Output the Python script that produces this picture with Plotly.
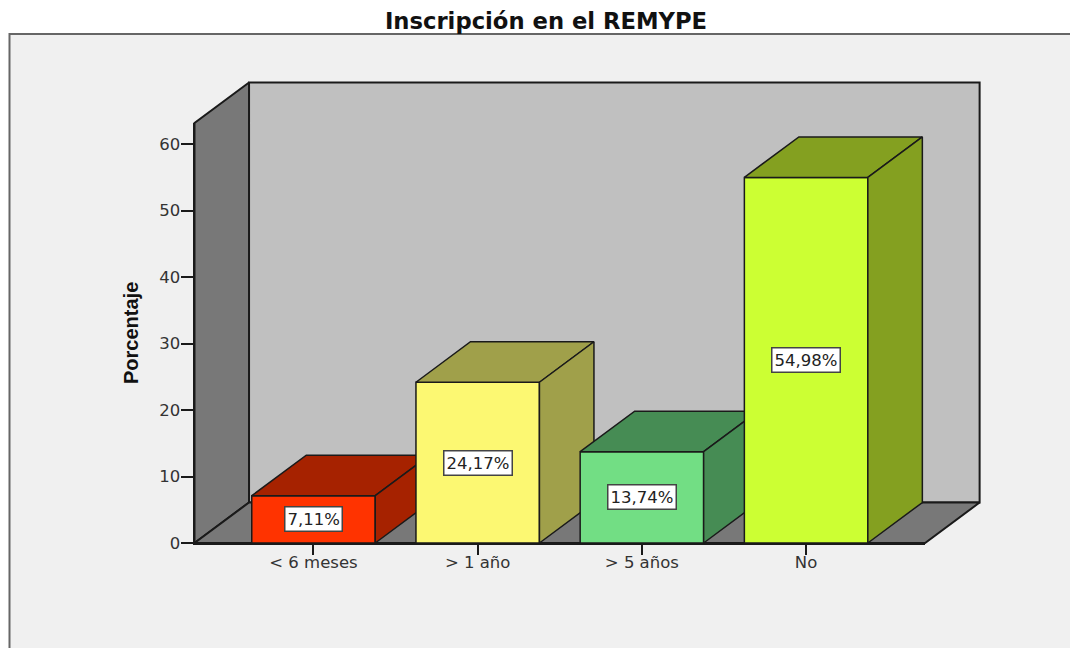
import plotly.graph_objects as go

categories = ["< 6 meses", "> 1 año", "> 5 años", "No"]
values = [7.11, 24.17, 13.74, 54.98]
labels = ["7,11%", "24,17%", "13,74%", "54,98%"]
front_colors = ["#ff3300", "#fcf872", "#72de84", "#ccff33"]
shade_colors = ["#a62200", "#a0a04a", "#468c54", "#84a020"]
y_ticks = [0, 10, 20, 30, 40, 50, 60]

W, H = 1070, 648
PX_X0, PX_PER_CAT = 313.5, 164.2
PX_Y0, PX_PER_UNIT = 543.0, 6.65
X_MIN, X_MAX = -0.7247, 3.7247
Y_MAX = 63.16
DEPTH_X, DEPTH_Y = 0.332, 6.09
BAR_W = 0.752
WALL_BACK, WALL_SIDE = "#c0c0c0", "#787878"
INK = "#1a1a1a"
FONT = "DejaVu Sans"

FULL_X = [-PX_X0 / PX_PER_CAT, (W - PX_X0) / PX_PER_CAT]
FULL_Y = [(PX_Y0 - H) / PX_PER_UNIT, PX_Y0 / PX_PER_UNIT]


def poly(xs, ys, color, xa, ya, lw=1.5):
    return go.Scatter(x=xs + xs[:1], y=ys + ys[:1], xaxis=xa, yaxis=ya, mode="lines",
                      fill="toself", fillcolor=color, line=dict(color=INK, width=lw),
                      hoverinfo="skip", showlegend=False)


fig = go.Figure()
fig.add_trace(go.Scatter(x=[None], y=[None], xaxis="x", yaxis="y", hoverinfo="skip", showlegend=False))
# back wall, left wall, floor
fig.add_trace(poly([X_MIN + DEPTH_X, X_MAX + DEPTH_X, X_MAX + DEPTH_X, X_MIN + DEPTH_X],
                   [DEPTH_Y, DEPTH_Y, Y_MAX + DEPTH_Y, Y_MAX + DEPTH_Y], WALL_BACK, "x2", "y2", 2))
fig.add_trace(poly([X_MIN, X_MIN + DEPTH_X, X_MIN + DEPTH_X, X_MIN],
                   [0, DEPTH_Y, Y_MAX + DEPTH_Y, Y_MAX], WALL_SIDE, "x2", "y2", 2))
fig.add_trace(poly([X_MIN, X_MIN + DEPTH_X, X_MAX + DEPTH_X, X_MAX],
                   [0, DEPTH_Y, DEPTH_Y, 0], WALL_SIDE, "x2", "y2", 2))

layout_axes = {
    "xaxis2": dict(domain=[0, 1], range=FULL_X, visible=False, fixedrange=True, anchor="y2"),
    "yaxis2": dict(domain=[0, 1], range=FULL_Y, visible=False, fixedrange=True, anchor="x2"),
}
annotations = []
for i, (v, front, shade, lab) in enumerate(zip(values, front_colors, shade_colors, labels)):
    n = i + 3
    xa, ya = f"x{n}", f"y{n}"
    l, r = i - BAR_W / 2, i + BAR_W / 2
    fig.add_trace(poly([l, r, r + DEPTH_X, l + DEPTH_X], [v, v, v + DEPTH_Y, v + DEPTH_Y], shade, xa, ya))
    fig.add_trace(poly([r, r + DEPTH_X, r + DEPTH_X, r], [0, DEPTH_Y, v + DEPTH_Y, v], shade, xa, ya))
    fig.add_trace(go.Bar(x=[i], y=[v], width=[BAR_W], xaxis=xa, yaxis=ya,
                         marker=dict(color=front, line=dict(color=INK, width=1.5)),
                         hoverinfo="skip", showlegend=False))
    layout_axes[f"xaxis{n}"] = dict(overlaying="x2", range=FULL_X, visible=False, fixedrange=True, anchor=ya)
    layout_axes[f"yaxis{n}"] = dict(overlaying="y2", range=FULL_Y, visible=False, fixedrange=True, anchor=xa)
    annotations.append(dict(x=i, y=v / 2, xref=xa, yref=ya, text=lab, showarrow=False,
                            font=dict(family=FONT, size=16.5, color="#222222"),
                            bgcolor="#ffffff", bordercolor="#444444", borderwidth=1.5, borderpad=2))

annotations.append(dict(x=131 / W, y=1 - 333 / H, xref="paper", yref="paper", text="<b>Porcentaje</b>",
                        textangle=-90, showarrow=False, xanchor="center", yanchor="middle",
                        font=dict(family="Liberation Sans", size=20, color="#111111")))

fig.update_layout(
    width=W, height=H, margin=dict(l=0, r=0, t=0, b=0, autoexpand=False),
    paper_bgcolor="#ffffff", plot_bgcolor="rgba(0,0,0,0)", showlegend=False, barmode="overlay",
    title=dict(text="<b>Inscripción en el REMYPE</b>", x=546 / W, y=1 - 21 / H,
               xanchor="center", yanchor="middle",
               font=dict(family=FONT, size=22.7, color="#111111")),
    xaxis=dict(domain=[194.5 / W, 925 / W], range=[X_MIN, X_MAX], tickmode="array", anchor="y",
               tickvals=list(range(len(categories))), ticktext=categories, ticks="outside",
               ticklen=10, tickwidth=1.5, tickcolor=INK, showline=True, linecolor=INK, linewidth=1.5,
               showgrid=False, zeroline=False, fixedrange=True, ticklabelstandoff=-7,
               tickfont=dict(family=FONT, size=16.5, color="#333333")),
    yaxis=dict(domain=[1 - 543 / H, 1 - 123 / H], range=[0, Y_MAX], tickmode="array", anchor="x",
               tickvals=y_ticks, ticks="outside", ticklen=12, tickwidth=1.5, tickcolor=INK,
               showline=True, linecolor=INK, linewidth=2, showgrid=False, zeroline=False,
               fixedrange=True, ticklabelstandoff=-3,
               tickfont=dict(family=FONT, size=16.5, color="#333333")),
    shapes=[dict(type="rect", xref="paper", yref="paper", x0=9.5 / W, x1=1.02, y0=-0.02, y1=1 - 34 / H,
                 fillcolor="#f0f0f0", line=dict(color="#666666", width=2), layer="below")],
    annotations=annotations,
    **layout_axes,
)

fig.write_html("out.html", config={"displayModeBar": False},
               post_script="document.documentElement.style.margin='0';document.body.style.margin='0';")
